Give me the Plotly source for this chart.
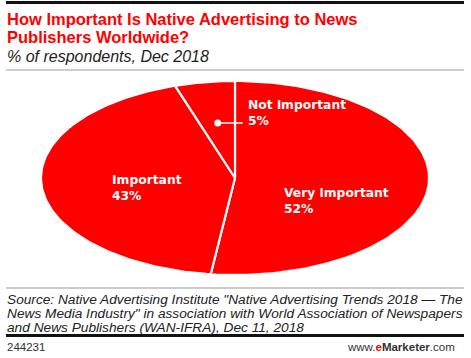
import numpy as np
import plotly.graph_objects as go

categories = ["Very important", "Important", "Not important"]
values = [52, 43, 5]
title_lines = ["How Important Is Native Advertising to News", "Publishers Worldwide?"]
subtitle = "% of respondents, Dec 2018"
source_lines = [
    'Source: Native Advertising Institute "Native Advertising Trends 2018 \u2014 The',
    'News Media Industry" in association with World Association of Newspapers',
    'and News Publishers (WAN-IFRA), Dec 11, 2018',
]
chart_id = "244231"

W, H = 471, 358
RED = "#ff0000"

def py(px):
    return 1 - px / H

def pxx(px):
    return px / W

fig = go.Figure()

total = sum(values)
start = 0.0
mids = []
for cat, v in zip(categories, values):
    a0 = start / total * 2 * np.pi
    a1 = (start + v) / total * 2 * np.pi
    t = np.linspace(a0, a1, 120)
    xs = np.concatenate([[0], np.sin(t), [0]])
    ys = np.concatenate([[0], np.cos(t), [0]])
    fig.add_trace(go.Scatter(x=xs, y=ys, mode="lines", fill="toself",
                             fillcolor=RED, line=dict(color="white", width=2.2),
                             hoverinfo="skip", showlegend=False))
    mids.append((a0 + a1) / 2)
    start += v

label_pos = {
    "Very important": (0.24, -0.24),
    "Important": (-0.645, -0.10),
    "Not important": (0.058, 0.67),
}
lab_font = dict(family="DejaVu Sans", size=12.3, color="white")
for cat, v in zip(categories, values):
    x, y = label_pos[cat]
    fig.add_annotation(x=x, y=y, xref="x", yref="y", showarrow=False,
                       text=f"<b>{cat}<br>{v}%</b>", xanchor="left", yanchor="middle",
                       align="left", font=lab_font)

m = mids[2]
r = 0.57
dx, dy = r * np.sin(m), 0.567
fig.add_trace(go.Scatter(x=[dx, 0.04], y=[dy, dy], mode="lines",
                         line=dict(color="white", width=1.5), hoverinfo="skip", showlegend=False))
fig.add_trace(go.Scatter(x=[dx], y=[dy], mode="markers",
                         marker=dict(color="white", size=7), hoverinfo="skip", showlegend=False))

fig.update_xaxes(range=[-1.005, 1.005], visible=False, domain=[pxx(40), pxx(430)], fixedrange=True)
fig.update_yaxes(range=[-1.01, 1.01], visible=False, domain=[py(276), py(80)], fixedrange=True)

tfont = dict(family="Liberation Sans", size=16.5, color=RED)
fig.add_annotation(x=pxx(5), y=py(19), xref="paper", yref="paper", showarrow=False,
                   text=f"<b>{title_lines[0]}</b>", xanchor="left", yanchor="middle", font=tfont)
fig.add_annotation(x=pxx(5), y=py(37), xref="paper", yref="paper", showarrow=False,
                   text=f"<b>{title_lines[1]}</b>", xanchor="left", yanchor="middle", font=tfont)
fig.add_annotation(x=pxx(5), y=py(57), xref="paper", yref="paper", showarrow=False,
                   text=f"<i>{subtitle}</i>", xanchor="left", yanchor="middle",
                   font=dict(family="Liberation Sans", size=16, color="#222"))

sfont = dict(family="Liberation Sans", size=13.7, color="#222")
for i, line in enumerate(source_lines):
    fig.add_annotation(x=pxx(5), y=py(299 + 14 * i), xref="paper", yref="paper", showarrow=False,
                       text=f"<i>{line}</i>", xanchor="left", yanchor="middle", font=sfont)

ffont = dict(family="Liberation Sans", size=11.5, color="#333")
fig.add_annotation(x=pxx(5), y=py(347), xref="paper", yref="paper", showarrow=False,
                   text=chart_id, xanchor="left", yanchor="middle", font=ffont)
fig.add_annotation(x=pxx(457), y=py(347), xref="paper", yref="paper", showarrow=False,
                   text="www.<b><span style='color:#ff0000'>e</span>Marketer</b>.com",
                   xanchor="right", yanchor="middle", font=ffont)

rules = [
    (1, 4, "#111"),
    (69.5, 70.5, "#999"),
    (287.5, 288.5, "#999"),
    (334, 337, "#111"),
]
for y0, y1, c in rules:
    fig.add_shape(type="rect", xref="paper", yref="paper", x0=pxx(6), x1=pxx(464),
                  y0=py(y1), y1=py(y0), fillcolor=c, line=dict(width=0), layer="above")

fig.update_layout(width=W, height=H, margin=dict(l=0, r=0, t=0, b=0),
                  paper_bgcolor="white", plot_bgcolor="white", showlegend=False)

fig.write_html("out.html", config={"displayModeBar": False},
               post_script=("document.body.style.margin='0';"
                            "document.documentElement.style.overflow='hidden';"
                            "document.body.style.overflow='hidden';"
                            "window.scrollTo(0,0);"))
